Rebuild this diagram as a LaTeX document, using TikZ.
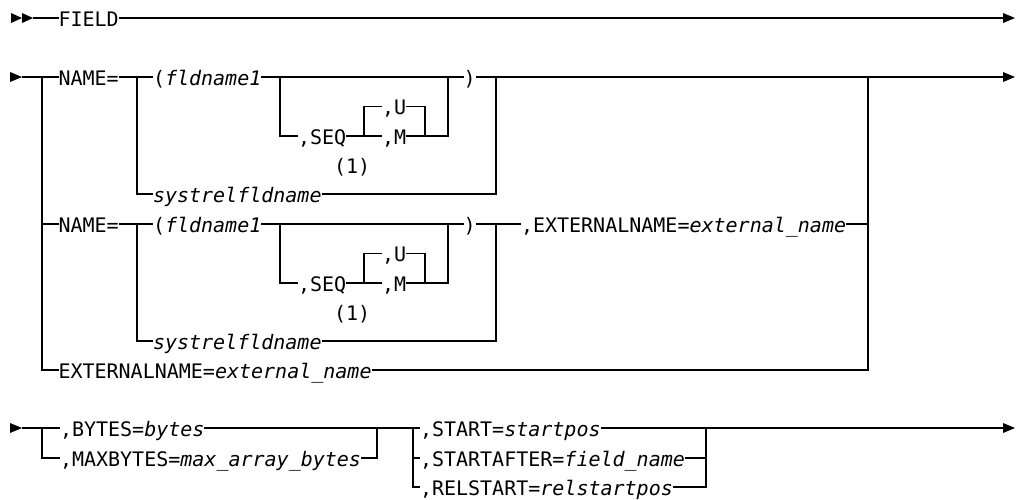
\documentclass[tikz,border=0pt]{standalone}
\usepackage{fontspec}
\setmonofont{DejaVu Sans Mono}
\newcommand\nameblock[2]{%
  \node[lbl] (name#2) at (58.5,#1) {NAME=};
  \coordinate (jB#2) at (137,#1);
  \node[lbl] (fld#2) at (153,#1) {(\itshape fldname1};
  \coordinate (jC#2) at (280,#1);
  \coordinate (jD#2) at (448,#1);
  \node[lbl] (rp#2) at (463.5,#1) {)};
  \coordinate (jE#2) at (496,#1);
  \node[lbl] (seq#2) at (298,{#1+59}) {,SEQ};
  \coordinate (jG#2) at (364,{#1+59});
  \node[lbl] (u#2) at (382,{#1+29.5}) {,U};
  \node[lbl] (m#2) at (382,{#1+59}) {,M};
  \coordinate (jH#2) at (425,{#1+59});
  \coordinate (jI#2) at (448,{#1+59});
  \node[lbl] (one#2) at (334,{#1+88}) {(1)};
  \node[lbl] (sys#2) at (153,{#1+117}) {\itshape systrelfldname};
  \coordinate (jJ#2) at (496,{#1+117});
  \draw (name#2.east) -- (fld#2.west);
  \draw (fld#2.east) -- (rp#2.west);
  \draw (jB#2) |- (sys#2.west);
  \draw (sys#2.east) -- (jJ#2) -- (jE#2);
  \draw (jC#2) |- (seq#2.west);
  \draw (seq#2.east) -- (m#2.west);
  \draw (jG#2) |- (u#2.west);
  \draw (u#2.east) -| (jH#2);
  \draw (m#2.east) -- (jI#2) -- (jD#2);
}
\begin{document}
\begin{tikzpicture}[x=1pt,y=-1pt,line width=1.2pt,
  lbl/.style={anchor=west,inner sep=0pt,outer sep=0pt,text height=16.8pt,text depth=0pt,
    font=\ttfamily\fontsize{20}{24}\selectfont},
  tipfill/.style={fill=black,draw=none}]
\useasboundingbox (0,0) rectangle (1017,499);
% row 0
\fill[tipfill] (11,13) -- (22,18) -- (11,23) -- cycle;
\fill[tipfill] (22,13) -- (33,18) -- (22,23) -- cycle;
\coordinate (r0s) at (33,18);
\node[lbl] (field) at (58.5,18) {FIELD};
\coordinate (r0e) at (1003,18);
\draw (r0s) -- (field.west);
\draw (field.east) -- (r0e);
\fill[tipfill] (1003,13) -- (1015,18) -- (1003,23) -- cycle;
% row 1
\fill[tipfill] (10,72) -- (22,77) -- (10,82) -- cycle;
\coordinate (s1) at (22,77);
\coordinate (jA) at (42,77);
\coordinate (jF) at (868,77);
\coordinate (e1) at (1003,77);
\nameblock{77}{a}
\nameblock{224}{b}
\draw (s1) -- (namea.west);
\draw (rpa.east) -- (e1);
\fill[tipfill] (1003,72) -- (1015,77) -- (1003,82) -- cycle;
\draw (jA) |- (nameb.west);
\node[lbl] (ext1) at (521,224) {,EXTERNALNAME=\itshape external\_name};
\coordinate (jF2) at (868,224);
\draw (rpb.east) -- (ext1.west);
\draw (ext1.east) -- (jF2);
\node[lbl] (ext2) at (58.5,370) {EXTERNALNAME=\itshape external\_name};
\coordinate (jF3) at (868,370);
\draw (jA) |- (ext2.west);
\draw (ext2.east) -- (jF3) -- (jF);
% row 3
\fill[tipfill] (10,423) -- (22,428) -- (10,433) -- cycle;
\coordinate (s3) at (22,428);
\coordinate (jK) at (42,428);
\node[lbl] (bytes) at (60,428) {,BYTES=\itshape bytes};
\node[lbl] (maxb) at (60,458) {,MAXBYTES=\itshape max\_array\_bytes};
\coordinate (jL) at (377,428);
\coordinate (jM) at (413,428);
\node[lbl] (start) at (420,428) {,START=\itshape startpos};
\node[lbl] (sa) at (420,458) {,STARTAFTER=\itshape field\_name};
\node[lbl] (rel) at (420,487) {,RELSTART=\itshape relstartpos};
\coordinate (jN) at (706,428);
\coordinate (e3) at (1003,428);
\draw (s3) -- (bytes.west);
\draw (jK) |- (maxb.west);
\draw (bytes.east) -- (start.west);
\draw (maxb.east) -| (jL);
\draw (jM) |- (sa.west);
\draw (jM) |- (rel.west);
\draw (start.east) -- (e3);
\draw (sa.east) -| (jN);
\draw (rel.east) -| (jN);
\fill[tipfill] (1003,423) -- (1015,428) -- (1003,433) -- cycle;
\end{tikzpicture}
\end{document}
